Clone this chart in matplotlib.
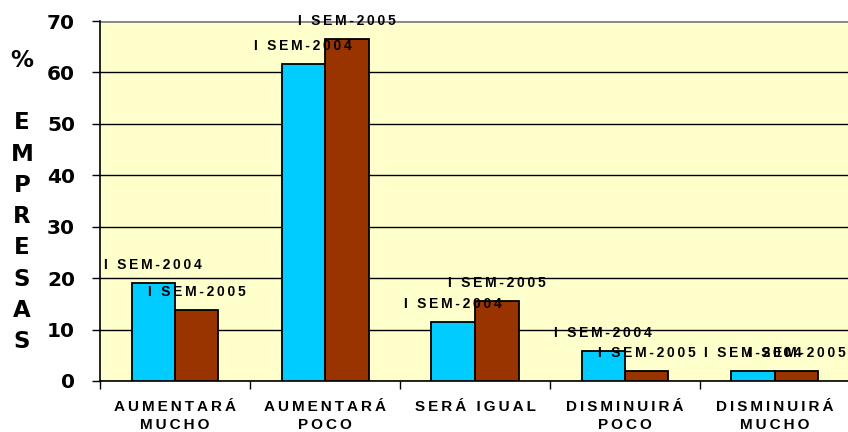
import matplotlib
matplotlib.use("Agg")
import matplotlib.pyplot as plt
import numpy as np

categories = ["AUMENTARÁ\nMUCHO", "AUMENTARÁ\nPOCO", "SERÁ IGUAL", "DISMINUIRÁ\nPOCO", "DISMINUIRÁ\nMUCHO"]
series_names = ["I SEM-2004", "I SEM-2005"]
values_2004 = [19.0, 61.7, 11.5, 5.8, 1.9]
values_2005 = [13.8, 66.5, 15.6, 1.9, 1.9]
yticks = [0, 10, 20, 30, 40, 50, 60, 70]
ylabel_letters = ["%", "", "E", "M", "P", "R", "E", "S", "A", "S"]

colors = ["#00CCFF", "#993300"]
bg = "#FFFFCC"
FONT = "Liberation Sans"
SP = "\u2009"

def spaced(s):
    return "\n".join(SP.join(list(line)) for line in s.split("\n"))

W, H = 848, 432
fig = plt.figure(figsize=(W / 100, H / 100), dpi=100)
ax = fig.add_axes([100 / W, (H - 381) / H, 750 / W, 360 / H])
ax.set_facecolor(bg)

x = np.arange(len(categories))
bw = 0.29
for i, (vals, c) in enumerate(zip([values_2004, values_2005], colors)):
    xs = x + (i - 0.5) * bw
    ax.bar(xs, vals, width=bw, color=c, edgecolor="black", linewidth=1.3, zorder=3)
    for xi, v in zip(xs, vals):
        ax.annotate(spaced(series_names[i]), (xi, v), xytext=(0, 13), textcoords="offset points",
                    ha="center", va="center", fontsize=10, fontweight="bold",
                    family=[FONT, "DejaVu Sans"], zorder=4)

ax.set_xlim(-0.5, len(categories) - 0.5)
ax.set_ylim(0, 70)
ax.set_yticks(yticks)
ax.set_yticklabels([str(t) for t in yticks], fontsize=14.5, fontweight="bold", family="DejaVu Sans")
ax.yaxis.grid(True, color="black", linewidth=1.0, zorder=1)
ax.set_axisbelow(True)

ax.set_xticks(np.arange(len(categories) + 1) - 0.5)
ax.set_xticklabels([])
ax.set_xticks(x, minor=True)
ax.set_xticklabels([spaced(c) for c in categories], minor=True, fontsize=11, fontweight="bold",
                   family=[FONT, "DejaVu Sans"], linespacing=1.3, va="top")
ax.tick_params(axis="x", which="minor", length=0, pad=14)
ax.tick_params(axis="x", which="major", length=6, width=1, direction="out")
ax.tick_params(axis="y", length=6, width=1, direction="out", pad=12)

for s in ["top", "right"]:
    ax.spines[s].set_visible(False)
ax.spines["left"].set_linewidth(1.2)
ax.spines["bottom"].set_linewidth(1.2)
ax.axhline(70, color="#888888", linewidth=2, zorder=2)

fig.text(22 / W, 1 - 201 / H, "\n".join(ylabel_letters), ha="center", va="center",
         fontsize=16.5, fontweight="bold", family="DejaVu Sans", linespacing=1.46)

fig.savefig("out.png", dpi=100, facecolor="white")
